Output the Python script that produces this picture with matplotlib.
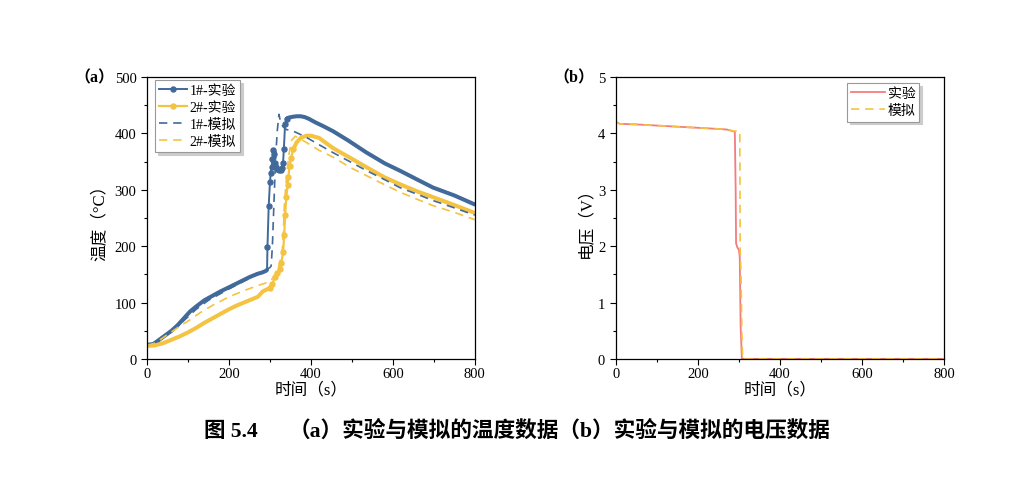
import numpy as np
import matplotlib.pyplot as plt
from matplotlib.ticker import MultipleLocator

plt.rcParams['font.family'] = ['Liberation Serif', 'Noto Sans CJK SC']
plt.rcParams['axes.unicode_minus'] = False

# (a) temperature, s / degC
t_1exp = [0, 15, 30, 45, 60, 75, 90, 105, 120, 140, 160, 180, 200, 225, 250, 270, 280, 290, 293,
          294, 297, 300, 302, 304, 306, 308, 310, 312, 314, 318, 322, 326, 329, 332, 334, 337, 341,
          345, 355, 365, 375, 385, 395, 410, 430, 454, 490, 536, 580, 617, 660, 698, 750, 800]
T_1exp = [25, 26, 34, 42, 50, 60, 72, 84, 93, 104, 112, 120, 127, 136, 145, 151, 153, 156, 158,
          199, 271, 313, 330, 340, 354, 371, 363, 348, 341, 337, 336, 336, 338, 347, 373, 416, 426,
          428, 429.5, 430.5, 430.5, 429, 426, 420, 413, 404, 388, 366, 347, 334, 318, 304, 290, 274]

t_2exp = [0, 20, 40, 60, 80, 100, 120, 140, 160, 180, 200, 220, 240, 260, 270, 278, 283, 292, 300,
          306, 312, 318, 324, 328, 332, 335, 337, 340, 343, 345, 348, 352, 357, 365, 375, 389, 400,
          420, 454, 500, 536, 580, 617, 660, 698, 750, 800]
T_2exp = [23, 24, 28, 34, 40, 47, 55, 64, 72, 80, 88, 95, 101, 107, 110, 116, 120, 123, 126,
          133, 145, 152, 160, 170, 189, 220, 256, 287, 308, 323, 343, 357, 372, 384, 392, 396, 396,
          392, 374, 355, 340, 322, 310, 297, 287, 273, 259]

t_1sim = [0, 30, 60, 90, 120, 150, 200, 250, 280, 290, 300, 303, 306, 309, 312, 315, 318, 322,
          326, 332, 340, 357, 375, 389, 420, 454, 495, 536, 580, 617, 660, 698, 750, 800]
T_1sim = [24, 33, 48, 68, 88, 104, 124, 143, 155, 158, 162, 165, 200, 260, 320, 370, 405, 434,
          420, 412, 407, 404, 398, 393, 380, 366, 350, 334, 318, 304, 292, 281, 268, 255]

t_2sim = [0, 20, 40, 60, 80, 100, 130, 160, 200, 240, 270, 300, 312, 322, 330, 333, 335, 338,
          342, 347, 353, 362, 375, 389, 420, 454, 495, 536, 580, 617, 660, 698, 750, 800]
T_2sim = [24, 28, 38, 48, 58, 67, 82, 95, 110, 122, 130, 137, 148, 165, 190, 230, 270, 300,
          335, 365, 388, 395, 390, 384, 370, 358, 340, 325, 309, 296, 283, 272, 260, 247]

# (b) voltage, s / V
t_vexp = [0, 5, 10, 50, 100, 150, 200, 250, 270, 285, 290, 292, 293, 296, 300, 302, 304, 306, 307, 400, 800]
V_vexp = [4.2, 4.19, 4.17, 4.16, 4.14, 4.12, 4.10, 4.08, 4.07, 4.04, 4.03, 3.0, 2.05, 1.98, 1.93,
          1.8, 0.6, 0.2, 0.0, 0.0, 0.0]
t_vsim = [0, 5, 10, 50, 100, 150, 200, 250, 270, 290, 300, 302, 303, 305, 307, 309, 400, 800]
V_vsim = [4.2, 4.19, 4.17, 4.16, 4.14, 4.12, 4.10, 4.08, 4.07, 4.04, 4.05, 4.0, 1.95, 1.5, 0.5,
          0.0, 0.0, 0.0]

blue = '#41699a'
yellow = '#f5c342'
red = '#f47c7c'


def thick_part(t, y, t0, t1):
    # keep the slow parts only, the fast jump stays thin like the original
    t = np.array(t, float)
    y = np.array(y, float)
    y[(t > t0) & (t < t1)] = np.nan
    return t, y


fig = plt.figure(figsize=(10.21, 4.85), dpi=100)
ax1 = fig.add_axes([0.144, 0.258, 0.321, 0.581])
ax2 = fig.add_axes([0.603, 0.258, 0.322, 0.581])

m1 = [i for i, t in enumerate(t_1exp) if 293 < t < 345]
m2 = [i for i, t in enumerate(t_2exp) if 295 < t < 358]
ax1.plot(t_1exp, T_1exp, '-o', color=blue, lw=1.4, ms=3.6, markevery=m1, label='1#-实验')
ax1.plot(*thick_part(t_1exp, T_1exp, 293, 341), '-', color=blue, lw=2.9, solid_capstyle='round')
ax1.plot(t_2exp, T_2exp, '-o', color=yellow, lw=1.6, ms=3.6, markevery=m2, label='2#-实验')
ax1.plot(*thick_part(t_2exp, T_2exp, 306, 357), '-', color=yellow, lw=2.9, solid_capstyle='round')
ax1.plot(t_1sim, T_1sim, '--', color=blue, lw=1.2, dashes=(5, 3.5), label='1#-模拟')
ax1.plot(t_2sim, T_2sim, '--', color=yellow, lw=1.2, dashes=(5, 3.5), label='2#-模拟')
ax1.set_xlim(0, 800)
ax1.set_ylim(0, 500)
ax1.xaxis.set_major_locator(MultipleLocator(200))
ax1.xaxis.set_minor_locator(MultipleLocator(100))
ax1.yaxis.set_major_locator(MultipleLocator(100))
ax1.yaxis.set_minor_locator(MultipleLocator(50))
ax1.set_xlabel('时间（s）', fontsize=12, labelpad=1)
ax1.set_ylabel('温度（°C）', fontsize=12, labelpad=5)
leg1 = ax1.legend(loc='upper left', bbox_to_anchor=(0.024, 0.989), borderaxespad=0,
                  fontsize=10, frameon=True, fancybox=False, shadow={'color': '0.8', 'alpha': 1},
                  edgecolor='0.6', borderpad=0.3, labelspacing=0.28, handlelength=2.0, handletextpad=0.2)
leg1.get_frame().set_linewidth(0.8)

ax2.plot(t_vexp, V_vexp, '-', color=red, lw=1.3, label='实验')
ax2.plot(t_vsim, V_vsim, '--', color=yellow, lw=1.2, dashes=(5, 3.5), label='模拟')
ax2.set_xlim(0, 800)
ax2.set_ylim(0, 5)
ax2.xaxis.set_major_locator(MultipleLocator(200))
ax2.xaxis.set_minor_locator(MultipleLocator(100))
ax2.yaxis.set_major_locator(MultipleLocator(1))
ax2.yaxis.set_minor_locator(MultipleLocator(0.5))
ax2.set_xlabel('时间（s）', fontsize=12, labelpad=1)
ax2.set_ylabel('电压（V）', fontsize=12, labelpad=3)
leg2 = ax2.legend(loc='upper right', bbox_to_anchor=(0.924, 0.979), borderaxespad=0,
                  fontsize=10, frameon=True, fancybox=False, shadow={'color': '0.8', 'alpha': 1},
                  edgecolor='0.6', borderpad=0.3, labelspacing=0.3, handlelength=2.4, handletextpad=0.2)
leg2.get_frame().set_linewidth(0.8)

for ax in (ax1, ax2):
    ax.tick_params(which='both', direction='out', labelsize=10.5, top=False, right=False)
    ax.tick_params(which='major', length=4, width=0.8)
    ax.tick_params(which='minor', length=2.5, width=0.8)
    ax.tick_params(axis='x', pad=2)
    for s in ax.spines.values():
        s.set_linewidth(0.9)

fig.text(0.1125, 0.839, '（a）', fontsize=11.5, fontweight='bold', va='center', ha='right')
fig.text(0.582, 0.839, '（b）', fontsize=11.5, fontweight='bold', va='center', ha='right')

fig.text(0.2, 0.11, '图 5.4', fontsize=15.5, fontweight='bold', va='center', ha='left')
fig.text(0.283, 0.11, '（a）实验与模拟的温度数据（b）实验与模拟的电压数据', fontsize=15.6,
         fontweight='bold', va='center', ha='left')

fig.savefig('out.png', dpi=100)
